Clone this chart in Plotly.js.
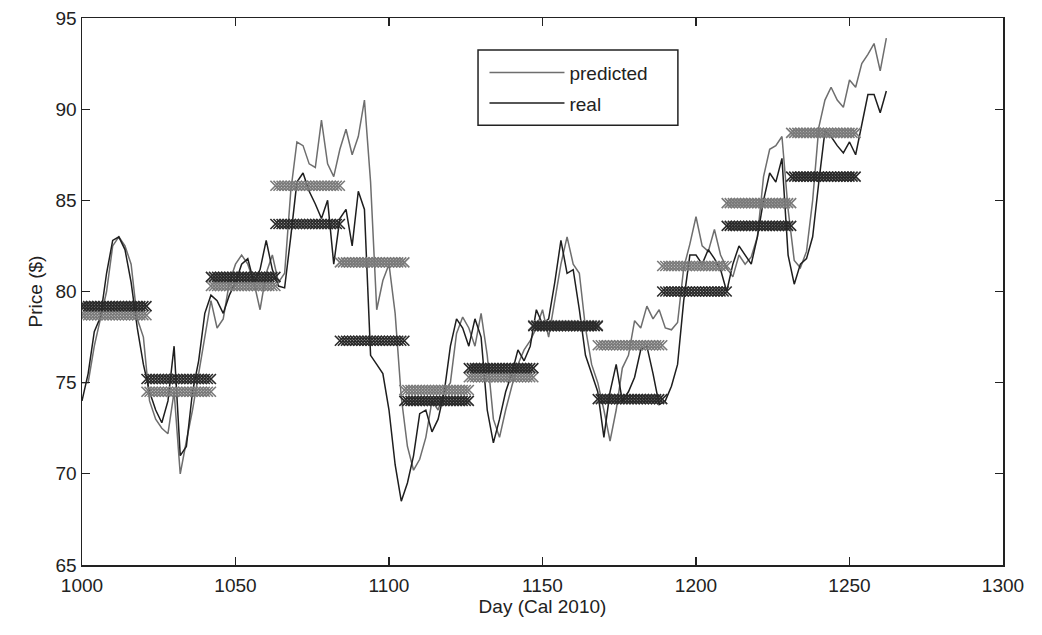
<!DOCTYPE html>
<html><head><meta charset="utf-8">
<script src="https://cdn.plot.ly/plotly-3.0.1.min.js"></script>
<style>html,body{margin:0;padding:0;background:#fff}#chart{width:1042px;height:635px}</style>
</head><body><div id="chart"></div>
<script>
// Day axis (every 2 days, 1000..1262)
const dayStart = 1000, dayStep = 2;
const realPrice = [74.0,75.5,77.8,78.6,81.0,82.8,83.0,82.3,80.5,78.0,76.0,74.5,73.5,72.8,74.0,77.0,71.0,71.5,74.5,76.2,
  78.8,79.8,79.5,78.8,79.8,80.5,81.5,81.8,80.5,81.2,82.8,81.2,80.3,80.2,83.0,86.0,86.5,85.5,84.8,84.0,
  85.0,81.5,84.0,84.5,82.5,85.5,84.5,76.5,76.0,75.5,73.5,70.5,68.5,69.5,71.0,73.3,73.5,72.3,73.0,74.5,
  77.0,78.5,78.0,77.0,78.5,77.5,73.5,71.7,73.0,74.5,75.5,76.8,76.2,77.0,79.0,78.2,78.5,80.5,82.8,81.0,
  81.2,79.0,76.5,75.5,74.5,72.0,74.5,76.0,74.0,74.5,75.3,76.8,77.0,75.5,73.8,74.0,74.8,76.0,79.5,82.0,
  82.0,81.5,82.3,81.8,81.2,80.0,81.5,82.5,82.0,81.5,83.0,85.0,86.5,86.0,87.3,82.0,80.4,81.5,81.8,83.0,
  86.0,88.8,88.5,88.0,87.6,88.2,87.5,89.2,90.8,90.8,89.8,91.0];
const predictedPrice = [75.0,75.0,77.0,78.5,80.0,82.5,83.0,82.5,81.5,78.5,77.5,74.0,73.0,72.5,72.2,74.5,70.0,71.8,73.5,75.5,
  77.5,79.5,78.0,78.5,80.5,81.5,82.0,81.5,80.5,79.0,81.0,82.0,80.5,81.0,85.5,88.2,88.0,87.0,86.8,89.4,
  87.0,86.3,87.8,88.9,87.5,88.5,90.5,86.0,79.0,80.6,81.5,78.8,74.2,71.5,70.2,70.8,72.0,74.0,73.5,74.5,
  75.0,77.7,78.6,78.0,77.0,78.8,76.5,73.0,72.0,73.5,74.8,76.0,76.8,77.3,78.0,79.0,77.5,79.5,81.5,83.0,
  81.5,81.0,78.0,76.0,75.0,73.5,71.8,73.5,75.8,76.5,78.4,78.0,79.2,78.5,79.0,78.0,77.9,78.3,81.3,82.6,
  84.1,82.5,82.2,83.4,82.0,81.3,80.8,82.0,81.5,81.9,83.0,86.3,87.8,88.0,88.5,84.5,81.7,81.3,82.2,85.0,
  89.0,90.5,91.2,90.5,90.1,91.6,91.2,92.5,93.0,93.6,92.1,93.9];

// Horizontal level segments (start day, predicted level, real level), 21 days each
const segStart = [1000,1021,1042,1063,1084,1105,1126,1147,1168,1189,1210,1231];
const segLen = 21;
const segPredicted = [78.7,74.5,80.3,85.8,81.6,74.6,75.3,78.15,77.05,81.4,84.85,88.7];
const segReal = [79.2,75.2,80.8,83.7,77.3,74.0,75.8,78.1,74.1,80.0,83.6,86.3];

const days = realPrice.map((_, i) => dayStart + i * dayStep);

function segPoints(levels) {
  const xs = [], ys = [];
  segStart.forEach((s, k) => {
    for (let d = s; d <= s + segLen; d++) { xs.push(d); ys.push(levels[k]); }
    xs.push(null); ys.push(null);
  });
  return {xs, ys};
}
const sp = segPoints(segPredicted), sr = segPoints(segReal);

const traces = [
  {x: days, y: predictedPrice, type: 'scatter', mode: 'lines', name: 'predicted', legendgroup: 'p',
   line: {color: '#6e6e6e', width: 1.5}},
  {x: days, y: realPrice, type: 'scatter', mode: 'lines', name: 'real', legendgroup: 'r',
   line: {color: '#1e1e1e', width: 1.5}},
  {x: sp.xs, y: sp.ys, type: 'scatter', mode: 'markers', showlegend: false, hoverinfo: 'skip',
   marker: {symbol: 'x-thin', size: 10, line: {color: '#7a7a7a', width: 1.6}}},
  {x: sr.xs, y: sr.ys, type: 'scatter', mode: 'markers', showlegend: false, hoverinfo: 'skip',
   marker: {symbol: 'x-thin', size: 10, line: {color: '#2a2a2a', width: 1.6}}}
];

const axisFont = {family: 'Liberation Sans, Arial, sans-serif', size: 19, color: '#222'};
const layout = {
  width: 1042, height: 635,
  margin: {l: 82, r: 39, t: 18, b: 70},
  paper_bgcolor: '#fff', plot_bgcolor: '#fff',
  showlegend: true,
  legend: {x: 0.437, y: 0.935, xanchor: 'left', yanchor: 'top', bgcolor: 'rgba(0,0,0,0)',
           borderwidth: 0, itemwidth: 75, traceorder: 'grouped', tracegroupgap: 3,
           font: {family: 'Liberation Sans, Arial, sans-serif', size: 19, color: '#222'}},
  shapes: [{type: 'rect', xref: 'paper', yref: 'paper', x0: 0.430, x1: 0.647, y0: 0.804, y1: 0.9415,
            line: {color: '#222', width: 1.5}, fillcolor: 'rgba(255,255,255,0)', layer: 'above'}],
  xaxis: {range: [1000, 1300], tickvals: [1000,1050,1100,1150,1200,1250,1300],
          ticks: 'inside', ticklen: 8, tickwidth: 1.2, tickcolor: '#222',
          showline: true, linecolor: '#222', linewidth: 1.5, mirror: 'ticks',
          showgrid: false, zeroline: false, tickfont: axisFont, ticklabelstandoff: 3,
          title: {text: 'Day (Cal 2010)', font: axisFont, standoff: 4}},
  yaxis: {range: [65, 95], tickvals: [65,70,75,80,85,90,95],
          ticks: 'inside', ticklen: 8, tickwidth: 1.2, tickcolor: '#222',
          showline: true, linecolor: '#222', linewidth: 1.5, mirror: 'ticks',
          showgrid: false, zeroline: false, tickfont: axisFont,
          title: {text: 'Price ($)', font: axisFont, standoff: 8}}
};
Plotly.newPlot('chart', traces, layout, {displayModeBar: false, staticPlot: true});
</script></body></html>
